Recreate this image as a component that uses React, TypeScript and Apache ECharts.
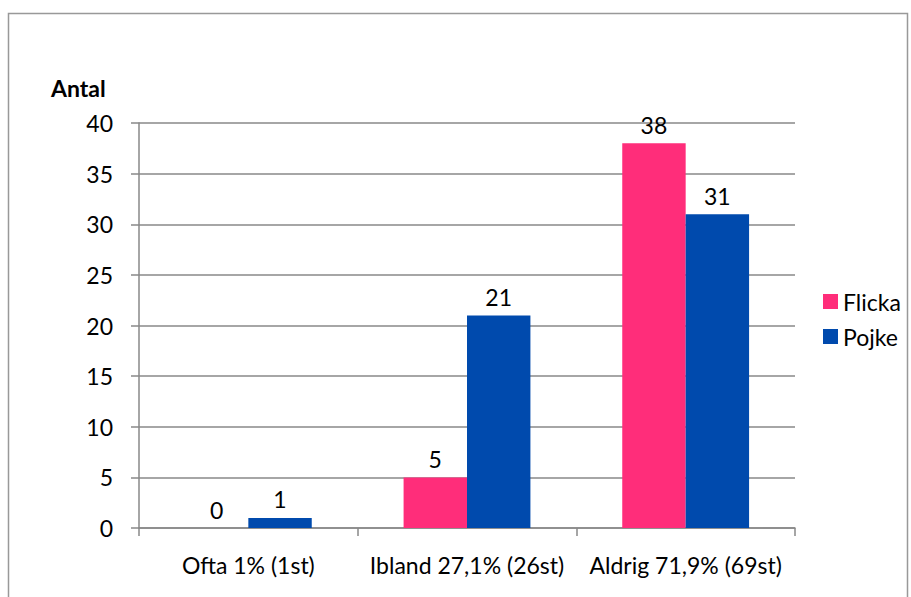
import React, { useEffect, useRef } from "react";
import * as echarts from "echarts";

const categories = ["Ofta 1% (1st)", "Ibland 27,1% (26st)", "Aldrig 71,9% (69st)"];
const flicka = [0, 5, 38];
const pojke = [1, 21, 31];
const seriesNames = ["Flicka", "Pojke"];
const yAxisTitle = "Antal";

const FONT = "Lato, 'Open Sans', sans-serif";
const FS = 23;

export default function App() {
  const ref = useRef<HTMLDivElement>(null);
  useEffect(() => {
    document.body.style.margin = "0";
    const chart = echarts.init(ref.current!, null, { renderer: "svg" });
    const label = {
      show: true,
      position: "top" as const,
      distance: 7,
      fontSize: FS,
      color: "#000",
      fontFamily: FONT,
    };
    chart.setOption({
      animation: false,
      backgroundColor: "#fff",
      textStyle: { fontFamily: FONT },
      grid: { left: 139, right: 116, top: 123, bottom: 69 },
      legend: {
        orient: "vertical",
        left: 818,
        top: 285,
        itemWidth: 15,
        itemHeight: 15,
        itemGap: 12,
        icon: "rect",
        data: seriesNames,
        textStyle: { fontSize: FS, color: "#000", fontFamily: FONT },
      },
      xAxis: {
        type: "category",
        data: categories,
        axisLine: { lineStyle: { color: "#888", width: 1.5 } },
        axisTick: { show: true, length: 8, lineStyle: { color: "#888", width: 1.5 } },
        axisLabel: { fontSize: FS, color: "#000", margin: 25, fontFamily: FONT, interval: 0, hideOverlap: false },
      },
      yAxis: {
        type: "value",
        min: 0,
        max: 40,
        interval: 5,
        axisLine: { show: true, lineStyle: { color: "#888", width: 1.5 } },
        axisTick: { show: true, length: 8, lineStyle: { color: "#888", width: 1.5 } },
        splitLine: { lineStyle: { color: "#888", width: 1.5 } },
        axisLabel: { fontSize: FS, color: "#000", margin: 26, fontFamily: FONT },
      },
      graphic: [
        {
          type: "rect",
          shape: { x: 8.5, y: 13.5, width: 899, height: 600 },
          style: { fill: "none", stroke: "#999", lineWidth: 1.5 },
          silent: true,
        },
        {
          type: "text",
          x: 51,
          y: 88,
          style: {
            text: yAxisTitle,
            fontSize: FS,
            fontWeight: "bold",
            fill: "#000",
            fontFamily: FONT,
            verticalAlign: "middle",
          },
        },
      ],
      series: [
        {
          name: seriesNames[0],
          type: "bar",
          data: flicka,
          itemStyle: { color: "#FF2D7A" },
          barGap: "0%",
          barCategoryGap: "42%",
          label,
        },
        {
          name: seriesNames[1],
          type: "bar",
          data: pojke,
          itemStyle: { color: "#004AAD" },
          barGap: "0%",
          barCategoryGap: "42%",
          label,
        },
      ],
    });
    return () => chart.dispose();
  }, []);
  return <div ref={ref} style={{ width: 911, height: 597 }} />;
}
